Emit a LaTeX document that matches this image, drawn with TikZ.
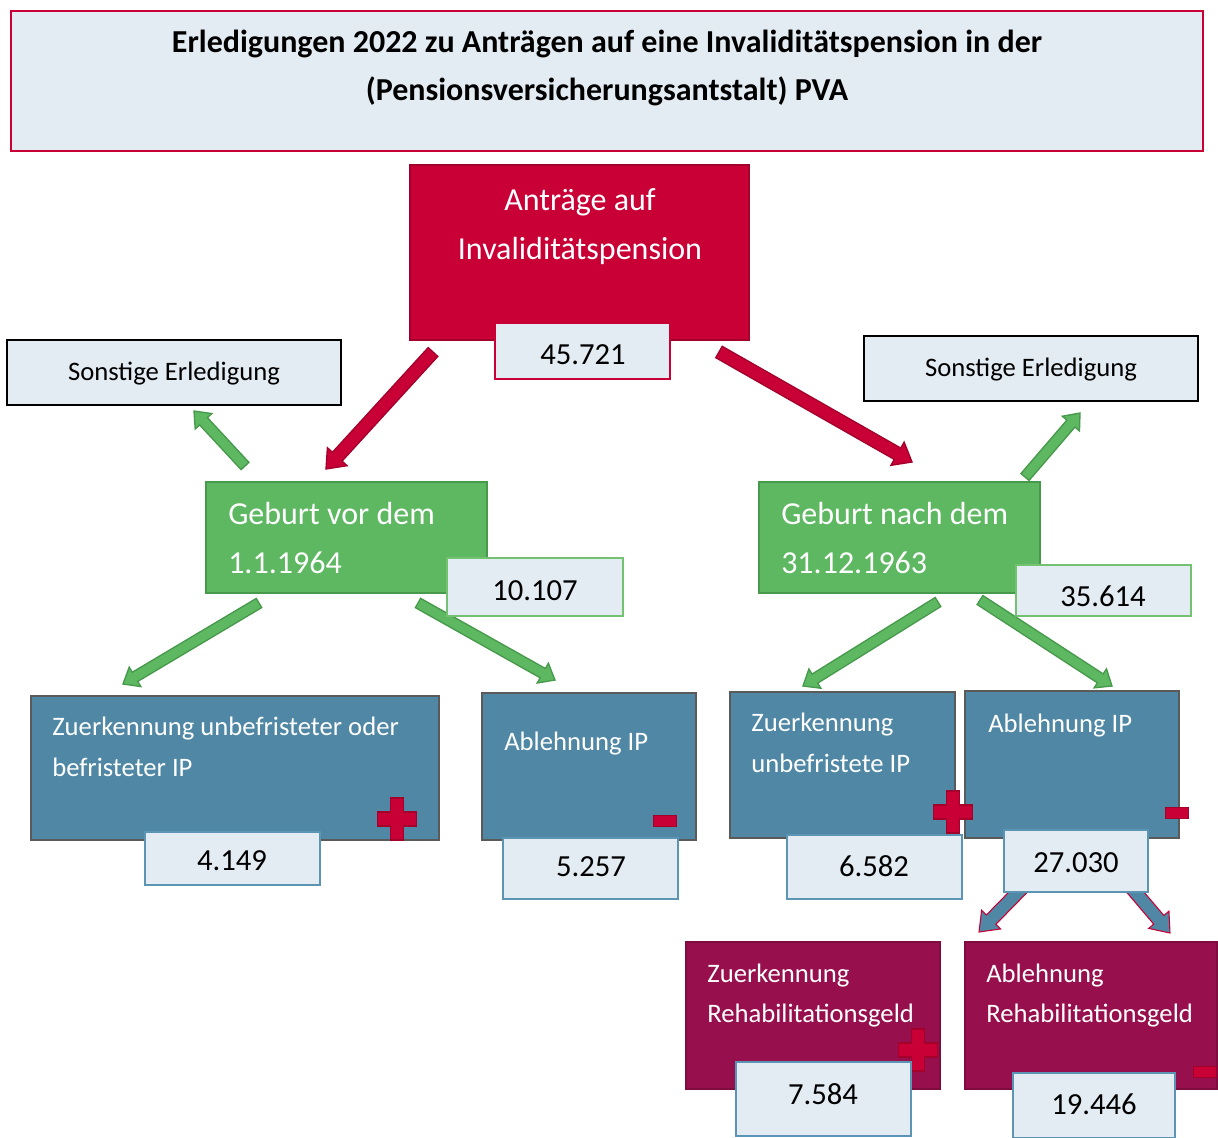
\documentclass[tikz,border=0pt]{standalone}
\usepackage{fontspec}
\setmainfont{Carlito}
\usetikzlibrary{calc,fit}

\definecolor{paleblue}{HTML}{E4ECF3}
\definecolor{crimson}{HTML}{C80036}
\definecolor{crimsondark}{HTML}{A3002C}
\definecolor{leafgreen}{HTML}{5EB862}
\definecolor{leafdark}{HTML}{47994B}
\definecolor{numgreen}{HTML}{72C272}
\definecolor{steelblue}{HTML}{4F87A4}
\definecolor{slategray}{HTML}{5A5A5A}
\definecolor{numblue}{HTML}{5C94B4}
\definecolor{plum}{HTML}{97104D}
\definecolor{plumdark}{HTML}{7D0C3F}

% block arrow: style, shaft half width, head half width, head length, from, to
\newcommand{\blockarrow}[6]{%
  \coordinate (hb) at ($(#6)!#4!(#5)$);
  \draw[#1] ($(#5)!#2!90:(#6)$) -- ($(hb)!#2!90:(#6)$) -- ($(hb)!#3!90:(#6)$)
    -- (#6) -- ($(hb)!#3!-90:(#6)$) -- ($(hb)!#2!-90:(#6)$)
    -- ($(#5)!#2!-90:(#6)$) -- cycle;
}
\newcommand{\plussign}[1]{%
  \draw[sign, shift={#1}] (-6.5,-21) -- (6.5,-21) -- (6.5,-7) -- (19.5,-7) -- (19.5,7)
    -- (6.5,7) -- (6.5,21) -- (-6.5,21) -- (-6.5,7) -- (-19.5,7) -- (-19.5,-7)
    -- (-6.5,-7) -- cycle;
}
\newcommand{\minussign}[1]{%
  \draw[sign, shift={#1}] (-11.5,-5.5) rectangle (11.5,5.5);
}

\tikzset{
  box/.style={inner sep=0pt, line width=1.5pt},
  titlebox/.style={box, draw=crimson, fill=paleblue},
  redbox/.style={box, draw=crimsondark, fill=crimson},
  otherbox/.style={box, draw=black, line width=2.2pt, fill=paleblue},
  greenbox/.style={box, draw=leafdark, fill=leafgreen},
  bluebox/.style={box, draw=slategray, line width=2.2pt, fill=steelblue},
  plumbox/.style={box, draw=plumdark, fill=plum},
  numbox/.style={box, fill=paleblue},
  txt/.style={inner sep=0pt, text height=1em, text depth=0.06em, yshift=-3pt},
  wtxt/.style={txt, anchor=west, text=white},
  num/.style={txt, font=\fontsize{23}{27}\selectfont},
  sign/.style={fill=crimson, draw=crimsondark, line width=1.3pt},
  redarrow/.style={fill=crimson, draw=crimsondark, line width=1pt, line join=miter},
  greenarrow/.style={fill=leafgreen, draw=leafdark, line width=1pt, line join=miter},
  bluearrow/.style={fill=steelblue, draw=crimson, line width=0.8pt, line join=miter}
}

\begin{document}
\begin{tikzpicture}[x=0.75pt, y=-0.75pt]
  \useasboundingbox (0,0) rectangle (1218,1138);

  % title
  \node[titlebox, fit={(11,11) (1203,151)}] (title) {};
  \node[txt, font=\bfseries\fontsize{24}{28}\selectfont] (titleA) at (607,42)
    {Erledigungen 2022 zu Anträgen auf eine Invaliditätspension in der};
  \node[txt, font=\bfseries\fontsize{24}{28}\selectfont] (titleB) at (607,90)
    {(Pensionsversicherungsantstalt) PVA};

  % arrows
  \coordinate (rlA) at (433,352);  \coordinate (rlB) at (326,469);
  \coordinate (rrA) at (719,352);  \coordinate (rrB) at (912,462);
  \blockarrow{redarrow}{4.9pt}{10pt}{12.5pt}{rlA}{rlB}
  \blockarrow{redarrow}{4.9pt}{10pt}{12.5pt}{rrA}{rrB}
  \coordinate (gulA) at (245,466); \coordinate (gulB) at (194,411);
  \coordinate (gurA) at (1025,477); \coordinate (gurB) at (1080,413);
  \coordinate (gllA) at (259,603); \coordinate (gllB) at (123,684);
  \coordinate (glrA) at (418,603); \coordinate (glrB) at (555,680);
  \coordinate (grlA) at (938,602); \coordinate (grlB) at (803,686);
  \coordinate (grrA) at (980,600); \coordinate (grrB) at (1112,686);
  \foreach \a/\b in {gulA/gulB, gurA/gurB, gllA/gllB, glrA/glrB, grlA/grlB, grrA/grrB}
    \blockarrow{greenarrow}{4pt}{8.5pt}{10.5pt}{\a}{\b};
  \coordinate (blA) at (1030,880); \coordinate (blB) at (979,932);
  \coordinate (brA) at (1125,880); \coordinate (brB) at (1170,933);
  \blockarrow{bluearrow}{5pt}{10pt}{13pt}{blA}{blB}
  \blockarrow{bluearrow}{5pt}{10pt}{13pt}{brA}{brB}

  % top
  \node[redbox, fit={(410,165) (749,340)}] (antr) {};
  \node[txt, text=white, font=\fontsize{24}{28}\selectfont] (antrA) at (580,200) {Anträge auf};
  \node[txt, text=white, font=\fontsize{24}{28}\selectfont] (antrB) at (580,249) {Invaliditätspension};
  \node[numbox, draw=crimson, fit={(495,323) (670,379)}] (antrN) {};
  \node[num] (antrNt) at (583,354) {45.721};

  \node[otherbox, fit={(7,340) (341,405)}] (sonstL) {};
  \node[txt, font=\fontsize{20}{24}\selectfont] (sonstLt) at (174,370) {Sonstige Erledigung};
  \node[otherbox, fit={(864,336) (1198,401)}] (sonstR) {};
  \node[txt, font=\fontsize{20}{24}\selectfont] (sonstRt) at (1031,366) {Sonstige Erledigung};

  % birth groups
  \node[greenbox, fit={(206,482) (487,593)}] (vor) {};
  \node[wtxt, font=\fontsize{24}{28}\selectfont] (vorA) at (228,514) {Geburt vor dem};
  \node[wtxt, font=\fontsize{24}{28}\selectfont] (vorB) at (228,563) {1.1.1964};
  \node[numbox, draw=numgreen, fit={(447,558) (623,616)}] (vorN) {};
  \node[num] (vorNt) at (535,590) {10.107};

  \node[greenbox, fit={(759,482) (1040,593)}] (nach) {};
  \node[wtxt, font=\fontsize{24}{28}\selectfont] (nachA) at (781,514) {Geburt nach dem};
  \node[wtxt, font=\fontsize{24}{28}\selectfont] (nachB) at (781,563) {31.12.1963};
  \node[numbox, draw=numgreen, fit={(1016,565) (1191,616)}] (nachN) {};
  \node[num] (nachNt) at (1103,596) {35.614};

  % decisions
  \node[bluebox, fit={(31,696) (439,840)}] (zuL) {};
  \node[wtxt, font=\fontsize{20}{24}\selectfont] (zuLA) at (52,725) {Zuerkennung unbefristeter oder};
  \node[wtxt, font=\fontsize{20}{24}\selectfont] (zuLB) at (52,766) {befristeter IP};
  \node[bluebox, fit={(482,693) (696,840)}] (abL) {};
  \node[wtxt, font=\fontsize{20}{24}\selectfont] (abLA) at (504,740) {Ablehnung IP};
  \node[bluebox, fit={(730,692) (955,838)}] (zuR) {};
  \node[wtxt, font=\fontsize{20}{24}\selectfont] (zuRA) at (751,721) {Zuerkennung};
  \node[wtxt, font=\fontsize{20}{24}\selectfont] (zuRB) at (751,762) {unbefristete IP};
  \node[bluebox, fit={(965,691) (1179,838)}] (abR) {};
  \node[wtxt, font=\fontsize{20}{24}\selectfont] (abRA) at (988,722) {Ablehnung IP};

  \node[plumbox, fit={(686,942) (940,1089)}] (rehaZ) {};
  \node[wtxt, font=\fontsize{20}{24}\selectfont] (rehaZA) at (707,972) {Zuerkennung};
  \node[wtxt, font=\fontsize{20}{24}\selectfont] (rehaZB) at (707,1012) {Rehabilitationsgeld};
  \node[plumbox, fit={(965,942) (1217,1089)}] (rehaA) {};
  \node[wtxt, font=\fontsize{20}{24}\selectfont] (rehaAA) at (986,972) {Ablehnung};
  \node[wtxt, font=\fontsize{20}{24}\selectfont] (rehaAB) at (986,1012) {Rehabilitationsgeld};

  % signs
  \plussign{(397,819)}
  \minussign{(665,821)}
  \plussign{(953,812)}
  \minussign{(1177,813)}
  \plussign{(918,1050)}
  \minussign{(1205,1072)}

  % numbers
  \node[numbox, draw=numblue, fit={(145,832) (320,885)}] (zuLN) {};
  \node[num] (zuLNt) at (232,860) {4.149};
  \node[numbox, draw=numblue, fit={(503,838) (678,899)}] (abLN) {};
  \node[num] (abLNt) at (591,866) {5.257};
  \node[numbox, draw=numblue, fit={(787,835) (962,899)}] (zuRN) {};
  \node[num] (zuRNt) at (874,866) {6.582};
  \node[numbox, draw=numblue, fit={(1004,830) (1148,892)}] (abRN) {};
  \node[num] (abRNt) at (1076,862) {27.030};
  \node[numbox, draw=numblue, fit={(736,1062) (911,1136)}] (rehaZN) {};
  \node[num] (rehaZNt) at (823,1094) {7.584};
  \node[numbox, draw=numblue, fit={(1013,1073) (1175,1138)}] (rehaAN) {};
  \node[num] (rehaANt) at (1094,1104) {19.446};
\end{tikzpicture}
\end{document}
